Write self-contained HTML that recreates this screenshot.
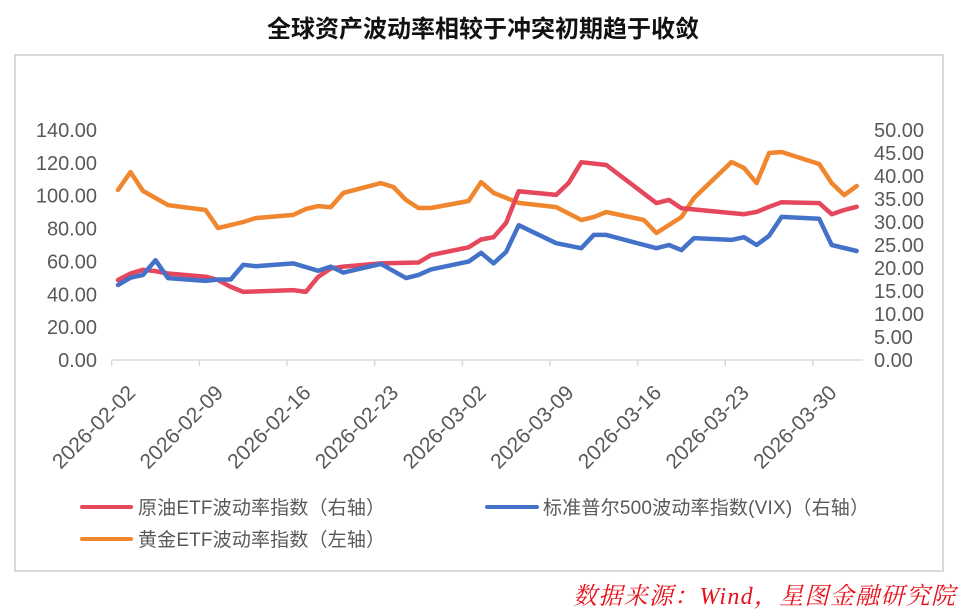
<!DOCTYPE html>
<html><head><meta charset="utf-8"><style>
html,body{margin:0;padding:0;background:#fff;}
svg{display:block;font-family:"Liberation Sans","Noto Sans CJK SC",sans-serif;}
</style></head><body>
<svg id="chart" width="960" height="615" viewBox="0 0 960 615">
<text x="483" y="37" text-anchor="middle" font-size="24" font-weight="bold" fill="#111">全球资产波动率相较于冲突初期趋于收敛</text>
<rect x="15" y="55" width="928" height="516" fill="none" stroke="#d9d9d9" stroke-width="2"/>
<g id="axes"></g>
<g id="series"></g>
<g>
<line x1="82" y1="507" x2="131" y2="507" stroke="#e5475d" stroke-width="4" stroke-linecap="round"/>
<text x="138" y="514" font-size="19" fill="#595959" textLength="247">原油ETF波动率指数（右轴）</text>
<line x1="487" y1="507" x2="537" y2="507" stroke="#4472c9" stroke-width="4" stroke-linecap="round"/>
<text x="543" y="514" font-size="19" fill="#595959" textLength="326">标准普尔500波动率指数(VIX)（右轴）</text>
<line x1="82" y1="539" x2="131" y2="539" stroke="#f0862e" stroke-width="4" stroke-linecap="round"/>
<text x="138" y="546" font-size="19" fill="#595959" textLength="247">黄金ETF波动率指数（左轴）</text>
</g>
<text x="955" y="604" text-anchor="end" font-size="24" font-style="italic" fill="#e8101a" textLength="382" font-family="'Liberation Serif','Noto Serif CJK SC',serif">数据来源：Wind，星图金融研究院</text>
</svg>
<script>
const tickDates = ["2026-02-02","2026-02-09","2026-02-16","2026-02-23","2026-03-02","2026-03-09","2026-03-16","2026-03-23","2026-03-30"];
const leftTicks = [0,20,40,60,80,100,120,140];
const rightTicks = [0,5,10,15,20,25,30,35,40,45,50];
const oilDays = [0,1,2,3,4,7,8,9,10,14,15,16,17,18,21,24,25,28,29,30,31,32,35,36,37,39,43,44,45,50,51,52,53,56,57,58,59];
const oilValues = [17.4,18.8,19.6,19.3,18.8,18.1,17.4,15.9,14.8,15.2,14.8,18.1,19.9,20.3,21.0,21.2,22.8,24.5,26.2,26.7,29.8,36.7,35.9,38.5,43.0,42.4,34.1,34.8,33.0,31.7,32.2,33.3,34.3,34.1,31.7,32.6,33.3];
const vixDays = [0,1,2,3,4,7,8,9,10,11,14,16,17,18,21,23,24,25,28,29,30,31,32,35,37,38,39,43,44,45,46,49,50,51,52,53,56,57,59];
const vixValues = [16.3,17.9,18.5,21.7,17.8,17.2,17.5,17.5,20.7,20.4,21.0,19.4,20.3,19.0,20.9,17.8,18.5,19.7,21.4,23.3,21.0,23.5,29.3,25.4,24.3,27.2,27.2,24.3,25.0,23.9,26.5,26.1,26.7,25.0,27.0,31.1,30.7,25.0,23.7];
const goldDays = [0,1,2,4,7,8,10,11,14,15,16,17,18,21,22,23,24,25,28,29,30,32,35,37,38,39,42,43,45,46,49,50,51,52,53,56,57,58,59];
const goldValues = [103.5,114.4,102.9,94.3,91.3,80.3,84.0,86.4,88.3,91.9,93.7,93.1,101.7,107.7,105.3,97.4,92.5,92.5,96.8,108.3,101.7,95.6,93.1,85.2,87.0,90.1,85.2,77.3,87.0,98.6,120.5,116.9,107.7,126.0,126.6,119.3,107.7,100.4,105.9];

const NS="http://www.w3.org/2000/svg";
const X0=111.7, X1=863, NDAYS=60, YT=130, YB=360;
const xDay=d=>X0+(d+0.5)*(X1-X0)/NDAYS;
const yL=v=>YB-(v/140)*(YB-YT);
const yR=v=>YB-(v/50)*(YB-YT);
function mk(tag,attrs,parent){const e=document.createElementNS(NS,tag);for(const k in attrs)e.setAttribute(k,attrs[k]);parent.appendChild(e);return e;}
const axes=document.getElementById('axes');
const xa=mk('line',{x1:X0,y1:YB,x2:X1,y2:YB,stroke:'#d9d9d9','stroke-width':1.5},axes);


tickDates.forEach((t,i)=>{
  const x=X0+i*7*(X1-X0)/NDAYS;
  const tk=mk('line',{x1:x,y1:YB,x2:x,y2:YB+6,stroke:'#d9d9d9','stroke-width':1.5},axes);
  
  
  const ax=x+25, ay=YB+34;
  const tx=mk('text',{x:ax,y:ay,'text-anchor':'end','font-size':21,fill:'#595959',transform:`rotate(-45 ${ax} ${ay})`},axes);
  tx.textContent=t;
  
  
});
leftTicks.forEach(v=>{
  const t=mk('text',{x:97,y:yL(v)+7,'text-anchor':'end','font-size':20,fill:'#595959'},axes);
  t.textContent=v.toFixed(2);
  
  
});
rightTicks.forEach(v=>{
  const t=mk('text',{x:874,y:yR(v)+7,'text-anchor':'start','font-size':20,fill:'#595959'},axes);
  t.textContent=v.toFixed(2);
  
  
});
const sg=document.getElementById('series');
function line(days,vals,yf,color,name){
  const pts=days.map((d,i)=>xDay(d).toFixed(1)+','+yf(vals[i]).toFixed(1)).join(' ');
  const p=mk('polyline',{points:pts,fill:'none',stroke:color,'stroke-width':4.5,'stroke-linejoin':'round','stroke-linecap':'round'},sg);
  
  
}
line(goldDays,goldValues,yL,'#f0862e','gold-etf-volatility-line');
line(oilDays,oilValues,yR,'#e5475d','oil-etf-volatility-line');
line(vixDays,vixValues,yR,'#4472c9','vix-line');
</script>
</body></html>
